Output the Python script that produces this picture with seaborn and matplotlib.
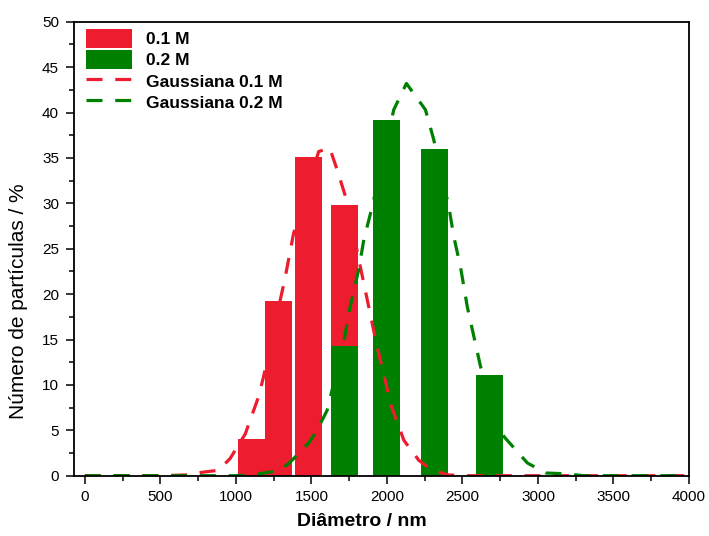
import numpy as np
import pandas as pd
import matplotlib
matplotlib.use("Agg")
import matplotlib.pyplot as plt
from matplotlib.patches import Patch
from matplotlib.lines import Line2D
from matplotlib.ticker import MultipleLocator
import seaborn as sns

# ---------------- data ----------------
red_centers = [1106, 1283, 1481, 1720]
red_values = [4.0, 19.2, 35.1, 29.8]
green_centers = [1720, 1995, 2312, 2678]
green_values = [14.3, 39.2, 36.0, 11.1]

red_fit_x = [0, 500, 700, 741, 885, 962, 1062, 1150, 1183, 1327, 1382,
             1548, 1621, 1670, 1736, 1824, 1935, 2030, 2112, 2211, 2289,
             2400, 2500, 4000]
red_fit_y = [0, 0, 0.1, 0.3, 0.6, 1.9, 4.6, 8.7, 10.9, 21.9, 26.7,
             35.7, 36.1, 33.7, 30.2, 23.0, 14.2, 7.6, 3.9, 1.7, 0.7,
             0.1, 0, 0]

green_fit_x = [0, 1000, 1117, 1294, 1360, 1482, 1537, 1604, 1648, 1714,
               1747, 1813, 1847, 1902, 2045, 2129, 2255, 2310, 2410, 2443,
               2487, 2532, 2576, 2620, 2775, 2930, 2996, 3050, 3200, 3300,
               4000]
green_fit_y = [0, 0, 0.1, 0.6, 1.5, 3.6, 5.0, 7.2, 10.2, 14.6,
               17.9, 22.7, 26.0, 29.6, 40.3, 43.2, 40.3, 37.0, 29.6, 26.3,
               23.0, 18.6, 15.3, 12.0, 4.3, 1.4, 0.8, 0.3, 0.2, 0,
               0]

labels = ["0.1 M", "0.2 M", "Gaussiana 0.1 M", "Gaussiana 0.2 M"]
x_label = "Diâmetro / nm"
y_label = "Número de partículas / %"

# ---------------- style ----------------
RED = "#ED1C2E"
GREEN = "#008000"
BAR_W = 178.0

sns.set_style("ticks")
plt.rcParams["font.family"] = ["Liberation Sans", "DejaVu Sans"]
plt.rcParams["text.color"] = "black"
plt.rcParams["axes.labelcolor"] = "black"

fig = plt.figure(figsize=(7.09, 5.36), dpi=100)
ax = fig.add_axes([0.1048, 0.1125, 0.8670, 0.8470])

red_df = pd.DataFrame({"x": red_centers, "y": red_values})
green_df = pd.DataFrame({"x": green_centers, "y": green_values})

sns.barplot(data=red_df, x="x", y="y", native_scale=True, orient="x",
            width=BAR_W / np.min(np.diff(red_centers)), color=RED,
            saturation=1, linewidth=0, errorbar=None, ax=ax)
sns.barplot(data=green_df, x="x", y="y", native_scale=True, orient="x",
            width=BAR_W / np.min(np.diff(green_centers)), color=GREEN,
            saturation=1, linewidth=0, errorbar=None, ax=ax)

dash = (0, (5, 4))
sns.lineplot(x=red_fit_x, y=red_fit_y, estimator=None, sort=False,
             color=RED, lw=2.3, linestyle=dash, ax=ax)
sns.lineplot(x=green_fit_x, y=green_fit_y, estimator=None, sort=False,
             color=GREEN, lw=2.3, linestyle=dash, ax=ax)

ax.set_xlim(-70, 4000)
ax.set_ylim(0, 50)
ax.xaxis.set_major_locator(MultipleLocator(500))
ax.xaxis.set_minor_locator(MultipleLocator(250))
ax.yaxis.set_major_locator(MultipleLocator(5))
ax.yaxis.set_minor_locator(MultipleLocator(2.5))
ax.set_xticks(np.arange(0, 4001, 500))
ax.set_xticklabels([str(v) for v in range(0, 4001, 500)])

for s in ax.spines.values():
    s.set_visible(True)
    s.set_linewidth(1.3)
    s.set_color("black")

ax.tick_params(axis="both", which="major", direction="out", length=6,
               width=1.1, labelsize=11, colors="black")
ax.tick_params(axis="both", which="minor", direction="out", length=3.8,
               width=1.1, colors="black")
ax.tick_params(axis="x", which="major", pad=4)
ax.tick_params(axis="y", which="major", pad=5)
ax.tick_params(top=False, right=False, which="both")

ax.set_xlabel(x_label, fontsize=14, fontweight="bold", color="black")
ax.set_ylabel(y_label, fontsize=15, color="black")
ax.xaxis.set_label_coords(0.468, -0.082)
ax.yaxis.set_label_coords(-0.075, 0.385)

handles = [
    Patch(facecolor=RED, edgecolor="none"),
    Patch(facecolor=GREEN, edgecolor="none"),
    Line2D([0], [0], color=RED, lw=2.3, linestyle=dash),
    Line2D([0], [0], color=GREEN, lw=2.3, linestyle=dash),
]
leg = ax.legend(handles, labels, loc="upper left", frameon=False,
                prop={"size": 12.5, "weight": "bold"}, labelcolor="black",
                handlelength=2.65, handleheight=1.35, labelspacing=0.1,
                handletextpad=0.8, borderaxespad=0.0,
                bbox_to_anchor=(0.008, 1.0))

fig.savefig("out.png", dpi=100)
